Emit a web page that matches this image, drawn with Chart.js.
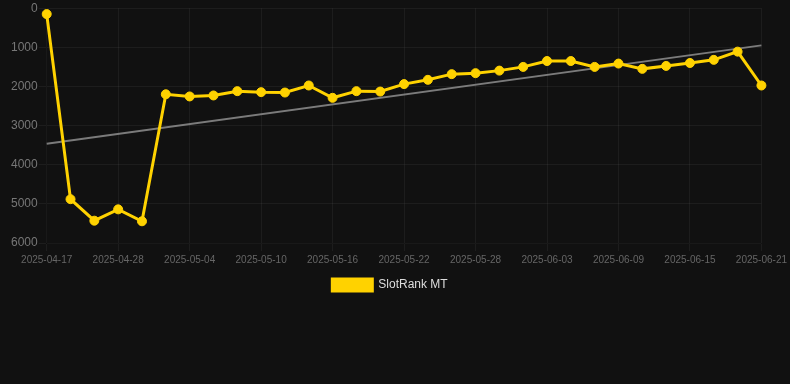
<!DOCTYPE html>
<html>
<head>
<meta charset="utf-8">
<script src="https://cdn.jsdelivr.net/npm/chart.js@4.4.1/dist/chart.umd.min.js"></script>
<style>
  html, body { margin: 0; padding: 0; background: #111111; }
  #wrap { width: 790px; height: 301px; position: relative; }
</style>
</head>
<body>
<div id="wrap"><canvas id="c"></canvas></div>
<script>
const categories = [
  '2025-04-17','2025-04-20','2025-04-24','2025-04-28','2025-04-30','2025-05-02','2025-05-04',
  '2025-05-06','2025-05-08','2025-05-10','2025-05-12','2025-05-14','2025-05-16','2025-05-18',
  '2025-05-20','2025-05-22','2025-05-24','2025-05-26','2025-05-28','2025-05-30','2025-06-01',
  '2025-06-03','2025-06-05','2025-06-07','2025-06-09','2025-06-11','2025-06-13','2025-06-15',
  '2025-06-17','2025-06-19','2025-06-21'
];
const rankValues = [
  150, 4880, 5430, 5140, 5445, 2200, 2255, 2230, 2120, 2145, 2155, 1975, 2290, 2120,
  2130, 1940, 1830, 1685, 1660, 1595, 1500, 1350, 1350, 1500, 1415, 1550, 1475, 1400,
  1320, 1110, 1975
];
const trendStart = 3465;
const trendEnd = 950;
const yTicks = [0, 1000, 2000, 3000, 4000, 5000, 6000];

const trendData = categories.map((_, i) => i === 0 ? trendStart : (i === categories.length - 1 ? trendEnd : null));

new Chart(document.getElementById('c'), {
  type: 'line',
  data: {
    labels: categories,
    datasets: [
      {
        label: 'SlotRank MT',
        data: rankValues,
        borderColor: '#FFD200',
        backgroundColor: '#FFD200',
        borderWidth: 3,
        pointRadius: 4.5,
        pointBorderWidth: 1,
        pointHoverRadius: 4.5,
        pointBackgroundColor: '#FFD200',
        pointBorderColor: '#FFD200',
        tension: 0,
        order: 1
      },
      {
        label: 'Trend',
        data: trendData,
        borderColor: 'rgba(150,150,150,0.8)',
        borderWidth: 2,
        pointRadius: 0,
        spanGaps: true,
        fill: false,
        order: 2
      }
    ]
  },
  options: {
    responsive: true,
    maintainAspectRatio: false,
    animation: false,
    layout: { padding: { left: 10, right: 20, top: -3, bottom: 0 } },
    plugins: {
      legend: {
        position: 'bottom',
        labels: {
          color: '#dddddd',
          font: { family: 'Liberation Sans, Arial, sans-serif', size: 12 },
          boxWidth: 40,
          boxHeight: 12,
          filter: (item) => item.text !== 'Trend'
        }
      },
      tooltip: { enabled: false }
    },
    scales: {
      x: {
        offset: false,
        grid: { color: 'rgba(255,255,255,0.05)', drawTicks: true },
        ticks: {
          color: '#666666',
          font: { family: 'Liberation Sans, Arial, sans-serif', size: 10 },
          maxRotation: 0,
          autoSkip: true,
          maxTicksLimit: 11
        }
      },
      y: {
        reverse: true,
        min: yTicks[0],
        max: yTicks[yTicks.length - 1],
        grid: { color: 'rgba(255,255,255,0.05)', tickLength: 8 },
        afterBuildTicks: (axis) => { axis.ticks = yTicks.map(v => ({ value: v })); },
        ticks: {
          color: '#777777',
          padding: 1,
          font: { family: 'Liberation Sans, Arial, sans-serif', size: 12 },
          callback: (v) => String(v)
        }
      }
    }
  }
});
</script>
</body>
</html>
